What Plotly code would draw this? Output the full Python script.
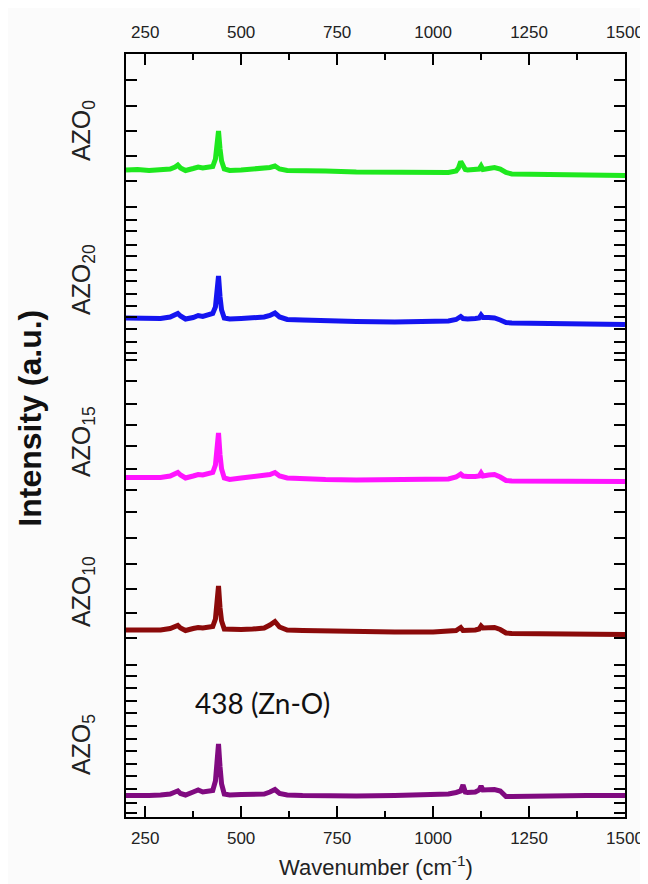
import plotly.graph_objects as go

# ---------------- data ----------------
wavenumber = [200, 230, 260, 290, 315, 328, 335, 342, 355, 375, 388, 400, 415, 426,
              433, 437, 441, 445, 449, 456, 470, 500, 530, 560, 575, 588, 600, 620,
              660, 720, 800, 900, 1000, 1040, 1060, 1066, 1072, 1078, 1084, 1090,
              1110, 1120, 1125, 1130, 1145, 1160, 1175, 1190, 1205, 1250, 1300,
              1400, 1500]

azo0 = [647, 647.5, 646.5, 647, 648, 650, 652, 649, 646.5, 648.5, 650, 649, 649.5, 650.5,
        658, 670, 686, 668, 656, 648, 646.5, 647, 647.5, 648, 649.5, 651, 648, 646.5,
        646.5, 646, 645, 644.5, 644, 644.5, 646, 649, 655.5, 650, 647.5, 647,
        647, 648, 651, 647.5, 648.5, 649.5, 648, 644.5, 643, 643, 642.5,
        642, 641.5]

azo20 = [499, 499, 498, 498.5, 500, 502, 503.5, 501, 498, 499.5, 501.5, 500.5, 502, 503.5,
         510, 522, 541, 520, 507, 499, 498, 498.5, 499, 500, 501.5, 504, 500, 497.5,
         497, 496, 495.5, 495, 495, 496, 497.5, 499, 500.5, 498.5, 498, 498,
         498.5, 499, 502, 499.5, 499.5, 499, 497, 494.5, 494, 494, 493.5,
         493, 492.5]

azo15 = [339.5, 339.5, 339, 339.5, 341, 343, 344.5, 342, 339, 341, 342.5, 342, 343, 344.5,
         352, 364, 384, 362, 348, 339, 337.5, 339, 340, 341, 342.5, 344.5, 341, 339,
         338, 337.5, 337, 337, 337, 338, 340, 341.5, 343, 341, 340.5, 340.5,
         340.5, 341, 344, 341, 342, 342.5, 340, 336.5, 336, 336, 335.5,
         335.5, 335.5]

azo10 = [187, 187, 186.5, 187, 188.5, 190, 191.5, 189, 186.5, 188.5, 189.5, 189, 189.5, 190.5,
         198, 211, 231, 209, 196, 188, 187.5, 187.5, 188, 189, 192, 195.5, 190, 187,
         186.5, 186, 185.5, 185, 185, 185.5, 186.5, 188, 189.5, 186.5, 186.5, 186.5,
         187, 188, 191, 189, 189.5, 189.5, 187.5, 184, 183.5, 183.5, 183,
         183, 182.5]

azo5 = [21.5, 21, 21.5, 22, 23, 25, 26, 23.5, 22, 25, 27, 25, 25.5, 26.5,
        36, 52, 73, 50, 33, 23, 22, 22.5, 23, 23, 25, 27.5, 23.5, 22,
        21.5, 21, 21, 21.5, 22, 23, 24.5, 25, 26, 32, 25, 24.5,
        25, 27, 31, 27, 27, 27.5, 26, 20.5, 20.5, 21, 21,
        21.5, 21.5]

series_names = ["AZO<sub>0</sub>", "AZO<sub>20</sub>", "AZO<sub>15</sub>",
                "AZO<sub>10</sub>", "AZO<sub>5</sub>"]
series_values = [azo0, azo20, azo15, azo10, azo5]
series_colors = ["#1ee81e", "#1414f0", "#ff14ff", "#8b0a0a", "#800a80"]

x_ticks = [250, 500, 750, 1000, 1250, 1500]
x_minor_ticks = [375, 625, 875, 1125, 1375]
y_major_ticks = [737, 686, 636, 610, 586, 561, 536, 511, 488, 464, 457, 413, 371,
                 327, 279, 228, 179, 152, 129, 104, 78, 53, 28, 4]
y_minor_ticks = [711, 661, 597, 572, 547, 523, 500, 475, 436, 392, 348, 305, 253,
                 204, 141, 116, 91, 66, 41, 14]
label_y = [686, 537, 375, 225, 72]
peak_label = "438 (Zn-O)"

# ---------------- figure ----------------
fig = go.Figure()
for name, vals, col in zip(series_names, series_values, series_colors):
    fig.add_trace(go.Scatter(x=wavenumber, y=vals, mode="lines", name=name,
                             line=dict(color=col, width=5), showlegend=False))

# helper trace to carry the top axis labels
fig.add_trace(go.Scatter(x=[wavenumber[0], wavenumber[-1]], y=[None, None],
                         xaxis="x2", mode="lines", showlegend=False,
                         hoverinfo="skip"))

axis_font = dict(family="Liberation Sans, Arial, sans-serif", size=17, color="#222")

fig.update_layout(
    width=648, height=884,
    paper_bgcolor="#fbfbfb", plot_bgcolor="#fbfbfb",
    margin=dict(l=118, r=25, t=46, b=75),
    xaxis=dict(range=[200, 1500], tickmode="array", tickvals=x_ticks,
               ticks="inside", ticklen=11, tickwidth=2, tickcolor="black",
               showline=True, linewidth=2, linecolor="black", mirror="allticks",
               showgrid=False, zeroline=False, tickfont=axis_font,
               ticklabelstandoff=5,
               minor=dict(tickmode="array", tickvals=x_minor_ticks, ticks="inside",
                          ticklen=6, tickwidth=2, tickcolor="black", showgrid=False)),
    xaxis2=dict(range=[200, 1500], overlaying="x", side="top", tickmode="array",
                tickvals=x_ticks, ticks="", showline=False, showgrid=False,
                zeroline=False, tickfont=axis_font, ticklabelstandoff=12),
    yaxis=dict(range=[0, 763], tickmode="array", tickvals=y_major_ticks,
               showticklabels=False, ticks="inside", ticklen=11, tickwidth=2,
               tickcolor="black", showline=True, linewidth=2, linecolor="black",
               mirror="allticks", showgrid=False, zeroline=False,
               minor=dict(tickmode="array", tickvals=y_minor_ticks, ticks="inside",
                          ticklen=6, tickwidth=2, tickcolor="black", showgrid=False)),
)

annotations = []
for name, ly in zip(series_names, label_y):
    annotations.append(dict(x=-0.086, xref="paper", y=ly, yref="y", text=name,
                            textangle=-90, showarrow=False, xanchor="center",
                            yanchor="middle",
                            font=dict(family="Liberation Sans, Arial", size=25,
                                      color="#222")))
annotations.append(dict(x=-0.193, xref="paper", y=0.523, yref="paper",
                        text="<b>Intensity (a.u.)</b>", textangle=-90, showarrow=False,
                        xanchor="center", yanchor="middle",
                        font=dict(family="Liberation Sans, Arial", size=32,
                                  color="#111")))
annotations.append(dict(x=0.5, xref="paper", y=-0.064, yref="paper",
                        text="Wavenumber (cm<sup>-1</sup>)", showarrow=False,
                        xanchor="center", yanchor="middle",
                        font=dict(family="Liberation Sans, Arial", size=22,
                                  color="#222")))
annotations.append(dict(x=0.273, xref="paper", y=0.149, yref="paper",
                        text=peak_label, showarrow=False, xanchor="center",
                        yanchor="middle",
                        font=dict(family="Lato, Open Sans, sans-serif", size=28,
                                  color="#111")))
fig.update_layout(annotations=annotations)

fig.write_html("out.html")
